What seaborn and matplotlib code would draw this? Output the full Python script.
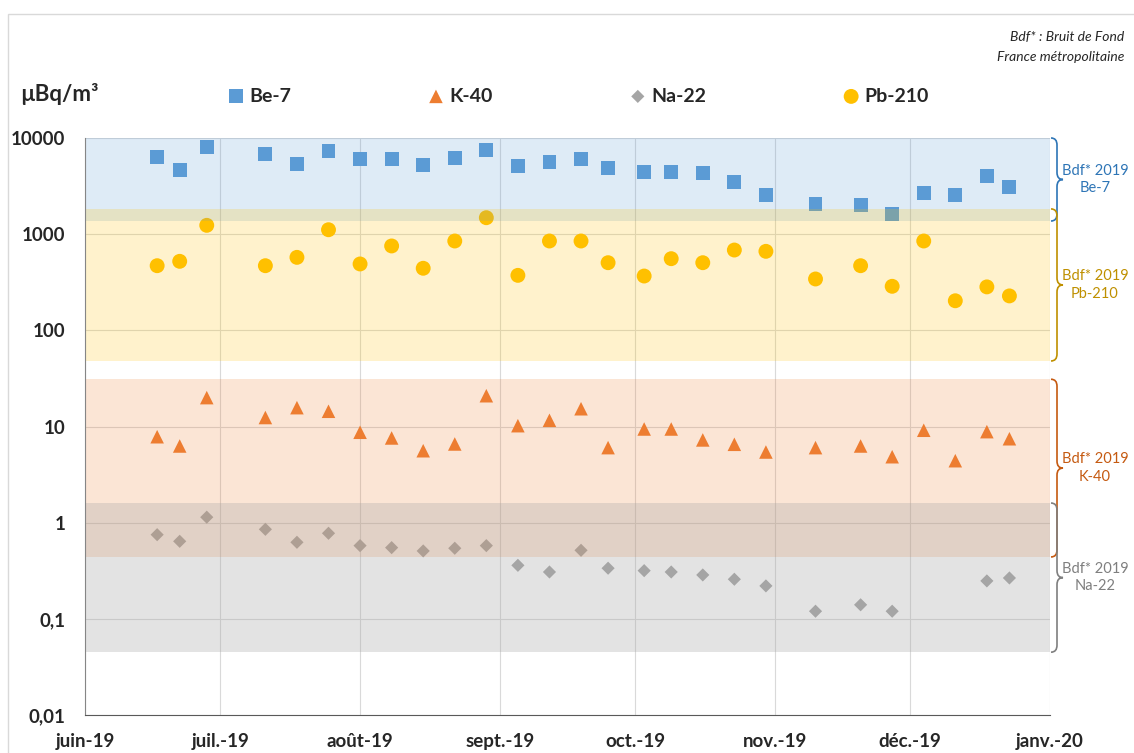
import numpy as np
import pandas as pd
import matplotlib
matplotlib.use('Agg')
import matplotlib.pyplot as plt
import matplotlib.ticker as mticker
from matplotlib.path import Path
from matplotlib.patches import PathPatch, Rectangle
import seaborn as sns

# weekly sampling dates
dates = pd.to_datetime([
    '2019-06-17', '2019-06-22', '2019-06-28', '2019-07-11', '2019-07-18',
    '2019-07-25', '2019-08-01', '2019-08-08', '2019-08-15', '2019-08-22',
    '2019-08-29', '2019-09-05', '2019-09-12', '2019-09-19', '2019-09-25',
    '2019-10-03', '2019-10-09', '2019-10-16', '2019-10-23', '2019-10-30',
    '2019-11-10', '2019-11-20', '2019-11-27', '2019-12-04', '2019-12-11',
    '2019-12-18', '2019-12-23'])

be7 = [6340, 4650, 8120, 6820, 5410, 7280, 6010, 6010, 5270, 6240,
       7550, 5110, 5670, 6050, 4910, 4460, 4400, 4330, 3490, 2570,
       2070, 2000, 1630, 2660, 2540, 4030, 3070]
k40 = [7.83, 6.27, 19.97, 12.4, 15.7, 14.4, 8.71, 7.60, 5.60, 6.58,
       20.9, 10.2, 11.6, 15.3, 6.03, 9.42, 9.42, 7.25, 6.53, 5.43,
       6.03, 6.27, 4.85, 9.14, 4.41, 8.84, 7.46]
na22 = [0.750, 0.640, 1.14, 0.853, 0.625, 0.776, 0.577, 0.550, 0.508, 0.542,
        0.577, 0.360, 0.307, 0.516, 0.336, 0.317, 0.307, 0.286, 0.258, 0.220,
        0.120, 0.140, 0.120, np.nan, np.nan, 0.248, 0.266]
pb210 = [470, 522, 1236, 470, 574, 1112, 490, 754, 442, 849,
         1483, 373, 849, 849, 505, 367, 556, 505, 684, 663,
         342, 470, 287, 849, 203, 283, 228]

month_ticks = pd.to_datetime(['2019-06-01', '2019-07-01', '2019-08-01', '2019-09-01',
                              '2019-10-01', '2019-11-01', '2019-12-01', '2020-01-01'])
month_labels = ['juin-19', 'juil.-19', 'août-19', 'sept.-19',
                'oct.-19', 'nov.-19', 'déc.-19', 'janv.-20']
y_ticks = [0.01, 0.1, 1, 10, 100, 1000, 10000]
y_labels = ['0,01', '0,1', '1', '10', '100', '1000', '10000']

# Bdf* 2019 ranges (background level, France metropolitaine)
bdf_names = ['Be-7', 'Pb-210', 'K-40', 'Na-22']
bdf_low = [1370, 48, 0.44, 0.045]
bdf_high = [10000, 1830, 31, 1.6]

sns.set_style('white')
plt.rcParams['font.family'] = ['Lato', 'DejaVu Sans']

W, H = 1134, 753
fig = plt.figure(figsize=(W / 100, H / 100), dpi=100)
ax = fig.add_axes([85 / W, 38 / H, 965 / W, 577 / H])

series = [
    ('Be-7', be7, 's', '#5B9BD5', 100),
    ('K-40', k40, '^', '#ED7D31', 95),
    ('Na-22', na22, 'D', '#A5A5A5', 45),
    ('Pb-210', pb210, 'o', '#FFC000', 115),
]
for name, vals, mk, col, size in series:
    sns.scatterplot(x=dates, y=vals, marker=mk, color=col, s=size,
                    edgecolor='none', linewidth=0, ax=ax, label=name, zorder=1)

ax.set_yscale('log')
ax.set_ylim(0.01, 10000)
ax.set_xlim(month_ticks[0], month_ticks[-1])

# background bands, drawn over the markers like the original
band_cols = {'Be-7': ('#5B9BD5', 0.2), 'Pb-210': ('#FFC000', 0.2),
             'K-40': ('#ED7D31', 0.2), 'Na-22': ('#A5A5A5', 0.3)}
for name, lo, hi in zip(bdf_names, bdf_low, bdf_high):
    c, a = band_cols[name]
    ax.axhspan(lo, hi, color=c, alpha=a, lw=0, zorder=2)

ax.set_xticks(month_ticks)
ax.set_xticklabels(month_labels)
ax.set_yticks(y_ticks)
ax.set_yticklabels(y_labels)
ax.yaxis.set_minor_locator(mticker.NullLocator())
ax.tick_params(axis='both', length=0, labelsize=13.5)
ax.tick_params(axis='y', pad=14)
ax.tick_params(axis='x', pad=13)
for lbl in ax.get_xticklabels() + ax.get_yticklabels():
    lbl.set_fontweight('bold')
ax.set_xlabel('')
ax.set_ylabel('')

ax.grid(True, color='#D9D9D9', lw=0.8)
ax.set_axisbelow(True)
for sp in ['top', 'right']:
    ax.spines[sp].set_visible(False)
ax.spines['left'].set_color('#868686')
ax.spines['bottom'].set_color('#595959')

leg = ax.legend(loc='center', bbox_to_anchor=(578 / W, 1 - 96 / H),
                bbox_transform=fig.transFigure, ncol=4, frameon=False,
                handlelength=0.9, handletextpad=0.25, columnspacing=7.0,
                prop={'weight': 'bold', 'size': 14})


# curly braces on the right side
def to_ax(v):
    return (np.log10(v) + 2) / 6


brace_cols = {'Be-7': '#2E75B6', 'Pb-210': '#BF9000',
              'K-40': '#C55A11', 'Na-22': '#7F7F7F'}
px = 1 / 965
py = 1 / 577
for name, lo, hi in zip(bdf_names, bdf_low, bdf_high):
    yt, yb = to_ax(hi), to_ax(lo)
    ym = (yt + yb) / 2
    xe, xv, xt = 1 + 1 * px, 1 + 7 * px, 1 + 13 * px
    r = 7 * py
    verts = [(xe, yt), (xv, yt), (xv, yt - r),
             (xv, ym + r), (xv, ym), (xt, ym),
             (xv, ym), (xv, ym - r),
             (xv, yb + r), (xv, yb), (xe, yb)]
    codes = [Path.MOVETO, Path.CURVE3, Path.CURVE3,
             Path.LINETO, Path.CURVE3, Path.CURVE3,
             Path.CURVE3, Path.CURVE3,
             Path.LINETO, Path.CURVE3, Path.CURVE3]
    patch = PathPatch(Path(verts, codes), fill=False, edgecolor=brace_cols[name],
                      lw=1.2, transform=ax.transAxes, clip_on=False)
    ax.add_patch(patch)
    ax.text(1 + 45 * px, ym, 'Bdf* 2019\n' + name, transform=ax.transAxes,
            ha='center', va='center', fontsize=10.5, color=brace_cols[name],
            linespacing=1.3)

fig.text(20 / W, 1 - 94 / H, 'µBq/m³', fontsize=16, fontweight='bold',
         ha='left', va='center')
fig.text(1124 / W, 1 - 37 / H, 'Bdf* : Bruit de Fond', fontsize=10,
         style='italic', ha='right', va='center')
fig.text(1124 / W, 1 - 57 / H, 'France métropolitaine', fontsize=10,
         style='italic', ha='right', va='center')

fig.add_artist(Rectangle((8 / W, -0.01), 1.0, 1.01 - 14 / H, transform=fig.transFigure,
                         fill=False, edgecolor='#D9D9D9', lw=1))

fig.savefig('out.png', dpi=100)
